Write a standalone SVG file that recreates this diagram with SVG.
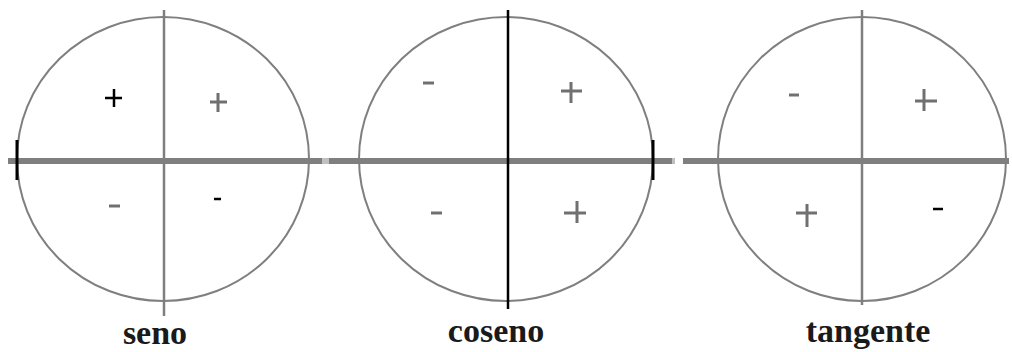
<svg xmlns="http://www.w3.org/2000/svg" width="1012" height="352" viewBox="0 0 1012 352">
  <style>
    .circ { fill: none; stroke: #7f7f7f; stroke-width: 2; }
    .axis { stroke: #7f7f7f; stroke-width: 6; }
    .vax { stroke: #7f7f7f; stroke-width: 2.5; }
    .vblk { stroke: #000; stroke-width: 2.5; }
    .tick { stroke: #000; stroke-width: 3; }
    .sg { stroke: #707070; stroke-width: 3; fill: none; }
    .sb { stroke: #000; stroke-width: 2.5; fill: none; }
    .lbl { font-family: "Liberation Serif", "Times New Roman", serif; font-weight: bold; font-size: 34px; fill: #1a1a1a; text-anchor: middle; }
  </style>
  <rect x="0" y="0" width="1012" height="352" fill="#fff"/>

  <g id="axes-horizontal">
    <line class="axis" x1="8" y1="161" x2="322" y2="161"/>
    <line x1="322" y1="161" x2="329" y2="161" stroke="#c0c0c0" stroke-width="6"/>
    <line class="axis" x1="329" y1="161" x2="672" y2="161"/>
    <line x1="672" y1="161" x2="675" y2="161" stroke="#c0c0c0" stroke-width="6"/>
    <line class="axis" x1="683" y1="161" x2="1009" y2="161"/>
  </g>

  <g id="seno">
    <ellipse class="circ" cx="163" cy="159" rx="146" ry="142"/>
    <line class="tick" x1="17" y1="140" x2="17" y2="180"/>
    <line class="vax" x1="164" y1="10" x2="164" y2="316"/>
    <path class="sb" d="M105 98 H122 M114 89 V107"/>
    <path class="sg" d="M210 102 H227 M218 93 V112"/>
    <path class="sg" d="M109 206 H120"/>
    <path class="sb" d="M214 199 H221"/>
    <text class="lbl" x="155" y="344">seno</text>
  </g>

  <g id="coseno">
    <ellipse class="circ" cx="506" cy="159" rx="147" ry="142"/>
    <line class="tick" x1="653" y1="140" x2="653" y2="180"/>
    <line class="vblk" x1="508" y1="10" x2="508" y2="309"/>
    <path class="sg" d="M423 83 H434"/>
    <path class="sg" d="M561 91 H582 M571 82 V103"/>
    <path class="sg" d="M431 213 H442"/>
    <path class="sg" d="M564 213 H586 M577 201 V223"/>
    <text class="lbl" x="496" y="342">coseno</text>
  </g>

  <g id="tangente">
    <ellipse class="circ" cx="862" cy="159" rx="144" ry="142"/>
    <line class="vax" x1="862" y1="10" x2="862" y2="305"/>
    <path class="sg" d="M789 95 H799"/>
    <path class="sg" d="M915 101 H937 M924 89 V111"/>
    <path class="sg" d="M796 213 H817 M807 204 V227"/>
    <path class="sb" d="M933 209 H943"/>
    <text class="lbl" x="868" y="342">tangente</text>
  </g>
</svg>
